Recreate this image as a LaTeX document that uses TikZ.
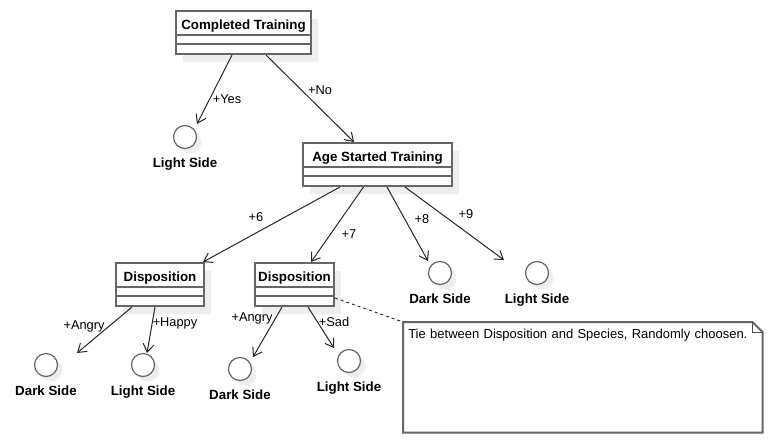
\documentclass[tikz,border=0pt]{standalone}
\usepackage{tikz}
\usepackage{fontspec}
\setmainfont{Liberation Sans}
\usetikzlibrary{shadows}
\usetikzlibrary{calc}
\usetikzlibrary{arrows.meta}

\definecolor{umlgray}{RGB}{102,102,102}
\definecolor{shadegray}{RGB}{238,238,238}

\begin{document}
\begin{tikzpicture}[x=0.75pt,y=0.75pt,yscale=-1,xscale=1,
    classbox/.style={draw=umlgray, line width=1.5pt, fill=white, inner xsep=0pt, inner ysep=0pt,
        minimum height=32.25pt, text height=13.5pt, text depth=18.75pt, anchor=north,
        font=\bfseries\fontsize{10}{12}\selectfont,
        drop shadow={shadow xshift=5.25pt, shadow yshift=-6pt, fill=shadegray, opacity=1}},
    classrule/.style={draw=umlgray, line width=1.5pt},
    endcircle/.style={circle, draw=umlgray, line width=0.9pt, fill=white, minimum size=17.25pt,
        inner sep=0pt,
        drop shadow={shadow xshift=3.75pt, shadow yshift=-3.75pt, fill=shadegray, opacity=1}},
    endlabel/.style={font=\bfseries\fontsize{10}{12}\selectfont, inner sep=0pt},
    edgelabel/.style={font=\fontsize{9.6}{11}\selectfont, inner sep=0pt},
    flow/.style={draw=black!85, line width=0.75pt, -{Straight Barb[length=6pt,width=8pt]}},
    notelink/.style={draw=black!80, line width=0.75pt, dash pattern=on 2.25pt off 2.25pt},
    notebox/.style={draw=umlgray, line width=1.5pt},
    notefold/.style={draw=black!70, line width=0.6pt},
    notetext/.style={anchor=north west, inner xsep=3.75pt, inner ysep=0pt, minimum width=269.25pt,
        minimum height=82.5pt, text width=261.75pt, text height=12pt, text depth=70.5pt,
        align=left, font=\fontsize{9.75}{12}\selectfont}]
    \useasboundingbox (0,0) rectangle (773,444);

    % Class Nodes
    \node[classbox, minimum width=101.25pt] (ct) at (243.5,10) {Completed Training};
    \draw[classrule] ($(ct.north west)+(0,25)$) -- ($(ct.north east)+(0,25)$);
    \draw[classrule] ($(ct.north west)+(0,34)$) -- ($(ct.north east)+(0,34)$);
    \node[classbox, minimum width=111.75pt] (ast) at (377.5,142) {Age Started Training};
    \draw[classrule] ($(ast.north west)+(0,25)$) -- ($(ast.north east)+(0,25)$);
    \draw[classrule] ($(ast.north west)+(0,34)$) -- ($(ast.north east)+(0,34)$);
    \node[classbox, minimum width=66pt] (dispa) at (160,262) {Disposition};
    \draw[classrule] ($(dispa.north west)+(0,25)$) -- ($(dispa.north east)+(0,25)$);
    \draw[classrule] ($(dispa.north west)+(0,34)$) -- ($(dispa.north east)+(0,34)$);
    \node[classbox, minimum width=59.25pt] (dispb) at (294.5,262) {Disposition};
    \draw[classrule] ($(dispb.north west)+(0,25)$) -- ($(dispb.north east)+(0,25)$);
    \draw[classrule] ($(dispb.north west)+(0,34)$) -- ($(dispb.north east)+(0,34)$);

    % End Nodes
    \node[endcircle] (lighta) at (185,137) {};
    \node[endcircle] (darka) at (46,365) {};
    \node[endcircle] (lightb) at (143,365) {};
    \node[endcircle] (darkb) at (240,369) {};
    \node[endcircle] (lightc) at (349,361) {};
    \node[endcircle] (darkc) at (440,273) {};
    \node[endcircle] (lightd) at (537,273) {};

    % End Labels
    \node[endlabel] (lightat) at ($(lighta)+(0,27)$) {Light Side};
    \node[endlabel] (darkat) at ($(darka)+(0,26)$) {Dark Side};
    \node[endlabel] (lightbt) at ($(lightb)+(0,27)$) {Light Side};
    \node[endlabel] (darkbt) at ($(darkb)+(0,26)$) {Dark Side};
    \node[endlabel] (lightct) at ($(lightc)+(0,27)$) {Light Side};
    \node[endlabel] (darkct) at ($(darkc)+(0,26)$) {Dark Side};
    \node[endlabel] (lightdt) at ($(lightd)+(0,27)$) {Light Side};

    % Connectors
    \draw[flow] ($(ct.south)+(-11.5,0)$) -- ($(lighta.center)+(12,-13)$);
    \draw[flow] ($(ct.south)+(22.5,0)$) -- ($(ast.north)+(-23.5,0)$);
    \draw[flow] ($(ast.south)+(-37.5,0)$) -- ($(dispa.north)+(43,0)$);
    \draw[flow] ($(ast.south)+(-14,0)$) -- ($(dispb.north)+(16.5,0)$);
    \draw[flow] ($(ast.south)+(9.5,0)$) -- ($(darkc.center)+(-12,-12)$);
    \draw[flow] ($(ast.south)+(27.5,0)$) -- ($(lightd.center)+(-33,-13)$);
    \draw[flow] ($(dispa.south)+(-28,0)$) -- ($(darka.center)+(31,-12)$);
    \draw[flow] ($(dispa.south)+(-5,0)$) -- ($(lightb.center)+(4,-12)$);
    \draw[flow] ($(dispb.south)+(-12.5,0)$) -- ($(darkb.center)+(13,-12)$);
    \draw[flow] ($(dispb.south)+(13.5,0)$) -- ($(lightc.center)+(-15,-13)$);

    % Connector Labels
    \node[edgelabel] (lyes) at (227,99) {+Yes};
    \node[edgelabel] (lno) at (320,90) {+No};
    \node[edgelabel] (lsix) at (256,217) {+6};
    \node[edgelabel] (lseven) at (349,234) {+7};
    \node[edgelabel] (leight) at (422,219) {+8};
    \node[edgelabel] (lnine) at (466,214) {+9};
    \node[edgelabel] (langrya) at (84,326) {+Angry};
    \node[edgelabel] (lhappy) at (175,323) {+Happy};
    \node[edgelabel] (langryb) at (252,318) {+Angry};
    \node[edgelabel] (lsad) at (334,322) {+Sad};

    % Note
    \node[notetext] (note) at (403,322) {Tie between Disposition and Species, Randomly choosen.};
    \draw[notebox] (note.north west) -- ($(note.north east)+(-10,0)$) -- ($(note.north east)+(0,10)$)
        -- (note.south east) -- (note.south west) -- cycle;
    \draw[notefold] ($(note.north east)+(-10,0)$) |- ($(note.north east)+(0,10)$);
    \draw[notelink] ($(dispb.east)+(0,13.5)$) -- (note.north west);
\end{tikzpicture}
\end{document}
